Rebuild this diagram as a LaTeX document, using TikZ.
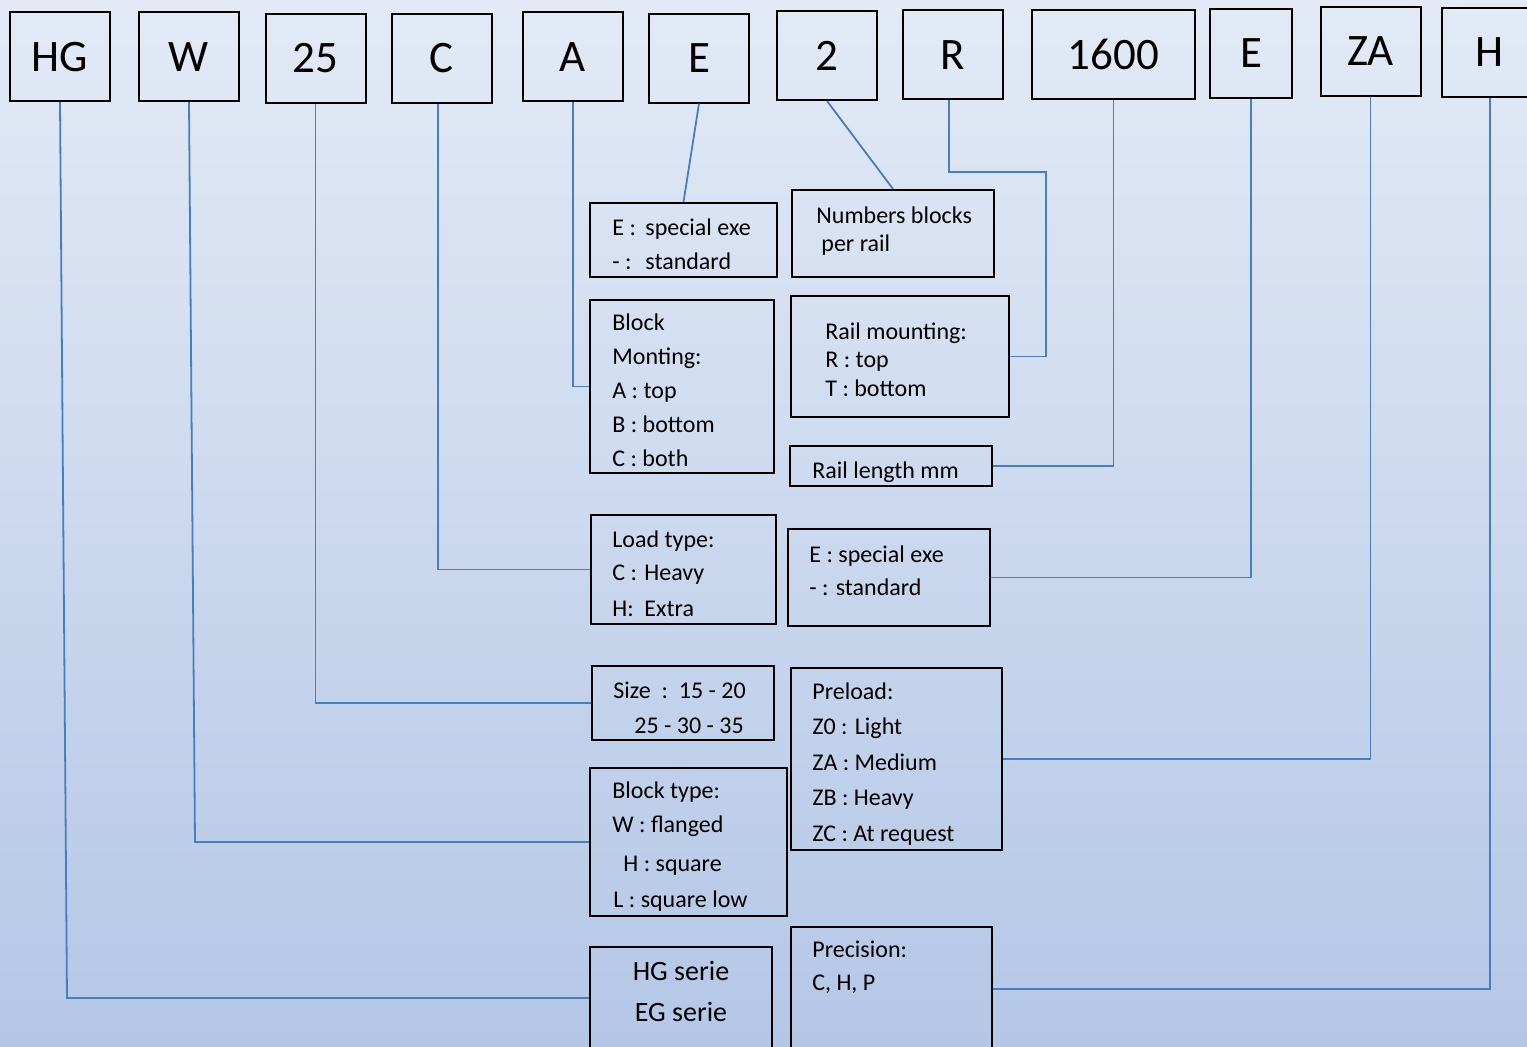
\documentclass[tikz,border=0pt]{standalone}
\usepackage{fontspec}
\setmainfont{Carlito}
\usetikzlibrary{fit}
\definecolor{bgtop}{HTML}{E3EAF6}
\definecolor{bgbot}{HTML}{B4C7E6}
\definecolor{lnkblue}{HTML}{4A7EBB}

\begin{document}
\begin{tikzpicture}[x=0.5pt, y=-0.5pt,
  code/.style = {draw=black, line width=1pt, inner sep=0pt,
                 minimum width=50pt, minimum height=44.5pt,
                 font=\fontsize{22.5}{27}\selectfont, text height=14.5pt, text depth=0pt},
  desc/.style = {draw=black, line width=1pt, inner sep=0pt},
  txt/.style  = {font=\fontsize{12}{14}\selectfont, inner sep=0pt, anchor=base west},
  big/.style  = {font=\fontsize{14}{16}\selectfont, inner sep=0pt, anchor=base},
  lnk/.style  = {lnkblue, line width=0.9pt}
]
\useasboundingbox (0,0) rectangle (1527,1046);
\clip (0,0) rectangle (1527,1046);
\fill[top color=bgtop, bottom color=bgbot] (0,0) rectangle (1527,1046);

% --- codes ---
\node[code] (hg)    at (60,56.5)    {HG};
\node[code] (w)     at (189,56.5)   {W};
\node[code] (n25)   at (315.5,58)   {25};
\node[code] (c)     at (441.5,58)   {C};
\node[code] (a)     at (573,56.5)   {A};
\node[code] (e)     at (699,58)     {E};
\node[code] (two)   at (827,55.5)   {2};
\node[code] (r)     at (952.5,54.5) {R};
\node[code, minimum width=81.5pt] (n1600) at (1113.5,54.5) {1600};
\node[code, minimum width=41pt]   (e2)    at (1251,53)     {E};
\node[code] (za)    at (1370.5,51)  {ZA};
\node[code, minimum width=48pt]   (h)     at (1490,52)     {H};

% --- boites de description ---
\node[desc, fit={(590,203) (777,277)}]  (ex1)  {};
\node[desc, fit={(792,190) (994,277)}]  (nb)   {};
\node[desc, fit={(590,300) (774,473)}]  (bm)   {};
\node[desc, fit={(791,296) (1009,417)}] (rm)   {};
\node[desc, fit={(790,446) (992,486)}]  (len)  {};
\node[desc, fit={(591,515) (776,624)}]  (lt)   {};
\node[desc, fit={(788,529) (990,626)}]  (ex2)  {};
\node[desc, fit={(592,666) (774,740)}]  (sz)   {};
\node[desc, fit={(791,668) (1002,850)}] (pre)  {};
\node[desc, fit={(590,768) (787,916)}]  (bt)   {};
\node[desc, fit={(590,947) (772,1049)}] (hgs)  {};
\node[desc, fit={(791,927) (992,1051)}] (prec) {};

% --- textes ---
\node[txt] (ex1a) at (612,235) {\makebox[16.5pt][l]{E :}special exe};
\node[txt] (ex1b) at (612,269) {\makebox[16.5pt][l]{- :}standard};
\node[txt] (nba) at (816,223) {Numbers blocks};
\node[txt] (nbb) at (821,251) {per rail};
\foreach \t [count=\k from 0] in {Block, Monting:, A : top, B : bottom, C : both}
  \node[txt] (bm\k) at (612,330+34*\k) {\t};
\foreach \t [count=\k from 0] in {Rail mounting:, R : top, T : bottom}
  \node[txt] (rm\k) at (825,339+28.5*\k) {\t};
\node[txt] (lena) at (812,478) {Rail length mm};
\node[txt] (lta) at (612,547) {Load type:};
\node[txt] (ltb) at (612,580) {\makebox[16pt][l]{C :}Heavy};
\node[txt] (ltc) at (612,616) {\makebox[16pt][l]{H:}Extra};
\node[txt] (ex2a) at (809,562) {E : special exe};
\node[txt] (ex2b) at (809,595) {- : standard};
\node[txt] (sza) at (613,698) {Size~~:~~15 - 20};
\node[txt] (szb) at (634,733) {25 - 30 - 35};
\foreach \t [count=\k from 0] in {Preload:, Z0 : Light, ZA : Medium, ZB : Heavy, ZC : At request}
  \node[txt] (pre\k) at (812,699+35.5*\k) {\t};
\node[txt] (bta) at (612,798) {Block type:};
\node[txt] (btb) at (612,832) {W : flanged};
\node[txt] (btc) at (623,871) {H : square};
\node[txt] (btd) at (613,907) {L : square low};
\node[big] (hgsa) at (681,980) {HG serie};
\node[big] (hgsb) at (681,1021) {EG serie};
\node[txt] (preca) at (812,957) {Precision:};
\node[txt] (precb) at (812,990) {C, H, P};

% --- liaisons ---
\coordinate (rbend) at (1046,172);
\coordinate (hgbend) at (67,998);
\coordinate (wbend) at (195,842);
\draw[lnk] (hg.south)    -- (hgbend) -- (hgs.west);
\draw[lnk] (w.south)     -- (wbend) -- (bt.west);
\draw[lnk] (n25.south)   |- (sz.west);
\draw[lnk] ([xshift=-1.75pt]c.south) |- (lt.west);
\draw[lnk] (a.south)     |- (bm.west);
\draw[lnk] (e.south)     -- (ex1.north);
\draw[lnk] (two.south)   -- (nb.north);
\draw[lnk] ([xshift=-1.75pt]r.south) |- (rbend) |- (rm.east);
\draw[lnk] (n1600.south) |- (len.east);
\draw[lnk] (e2.south)    |- (ex2.east);
\draw[lnk] (za.south)    |- (pre.east);
\draw[lnk] (h.south)     |- (prec.east);
\end{tikzpicture}
\end{document}
